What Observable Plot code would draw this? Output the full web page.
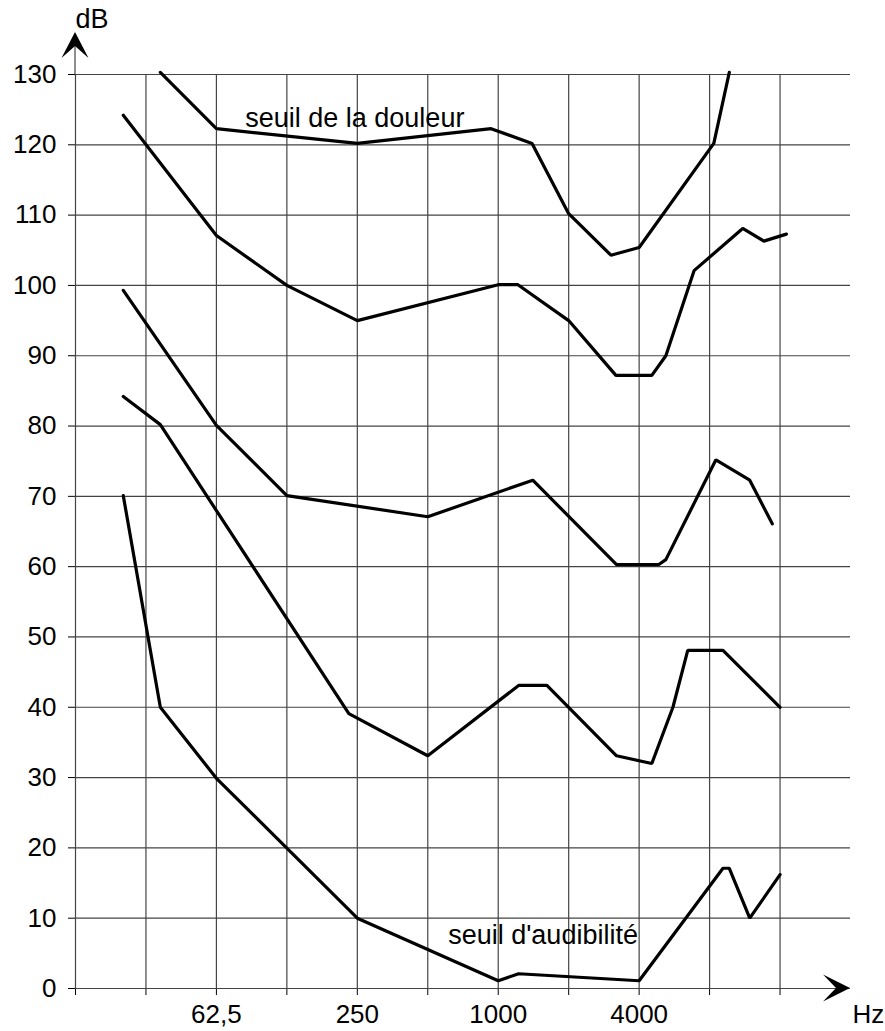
<!DOCTYPE html>
<html>
<head>
<meta charset="utf-8">
<script src="https://cdn.jsdelivr.net/npm/d3@7"></script>
<script src="https://cdn.jsdelivr.net/npm/@observablehq/plot@0.6"></script>
<style>
  html, body { margin: 0; padding: 0; background: #fff; }
  #chart svg { display: block; }
</style>
</head>
<body>
<div id="chart"></div>
<script>
// Octave grid (Hz) and dB grid
const gridHz = [15.625, 31.25, 62.5, 125, 250, 500, 1000, 2000, 4000, 8000, 16000];
const dbTicks = [0, 10, 20, 30, 40, 50, 60, 70, 80, 90, 100, 110, 120, 130];
const xTickHz = [62.5, 250, 1000, 4000];
const xTickText = ["62,5", "250", "1000", "4000"];

// Curve 1 : seuil de la douleur
const douleurHz = [36, 62.5, 250, 933, 1395, 2000, 3031, 4000, 8339, 9712];
const douleurDb = [130.3, 122.3, 120.2, 122.3, 120.2, 110.2, 104.3, 105.4, 120.2, 130.3];
// Curve 2
const c100Hz = [25, 62.5, 125, 250, 1000, 1214, 2000, 3183, 4531, 5203, 6866, 11080, 13640, 17030];
const c100Db = [124.2, 107.1, 100, 95, 100.1, 100.1, 95, 87.2, 87.2, 90, 102.1, 108.1, 106.3, 107.3];
// Curve 3
const c70Hz = [25, 62.5, 125, 500, 1405, 3203, 4855, 5203, 8514, 11875, 14823];
const c70Db = [99.3, 80.1, 70.1, 67.1, 72.3, 60.3, 60.3, 61.0, 75.2, 72.3, 66.1];
// Curve 4
const c40Hz = [25, 36, 230, 500, 1222, 1614, 3203, 4531, 5577, 6453, 9127, 16000];
const c40Db = [84.2, 80.2, 39.1, 33.1, 43.1, 43.1, 33.1, 32.0, 40.0, 48.1, 48.1, 40.0];
// Curve 5 : seuil d'audibilité
const audibHz = [25, 36, 62.5, 250, 1000, 1222, 4000, 9127, 9712, 11875, 16000];
const audibDb = [70.1, 40.0, 29.9, 10.0, 1.1, 2.1, 1.1, 17.1, 17.1, 10.0, 16.2];

// Curve labels
const labelText = ["seuil de la douleur", "seuil d'audibilité"];
const labelHz = [83, 611];
const labelDb = [122.6, 6.4];

// Build tables
const curves = [
  ["douleur", douleurHz, douleurDb],
  ["c100", c100Hz, c100Db],
  ["c70", c70Hz, c70Db],
  ["c40", c40Hz, c40Db],
  ["audib", audibHz, audibDb]
];
const rows = curves.flatMap(([name, hz, db]) => hz.map((h, i) => ({curve: name, hz: h, db: db[i]})));
const labels = labelText.map((t, i) => ({text: t, hz: labelHz[i], db: labelDb[i]}));
const tickMap = new Map(xTickHz.map((h, i) => [h, xTickText[i]]));

const gridColor = "#444";

// Arrowheads and axis extensions drawn from the scales
function arrows(index, scales) {
  const x = scales.x, y = scales.y;
  const x0 = x(gridHz[0]), yTop = y(dbTicks[dbTicks.length - 1]), y0 = y(0), xEnd = x(32000);
  const g = d3.create("svg:g");
  g.append("line")
    .attr("x1", x0).attr("x2", x0).attr("y1", yTop).attr("y2", yTop - 38)
    .attr("stroke", gridColor).attr("stroke-width", 1.2);
  g.append("path")
    .attr("d", `M${x0},${yTop - 42}L${x0 + 13.5},${yTop - 16}L${x0},${yTop - 28}L${x0 - 13.5},${yTop - 16}Z`)
    .attr("fill", "black");
  g.append("path")
    .attr("d", `M${xEnd},${y0}L${xEnd - 27},${y0 + 13.5}L${xEnd - 14},${y0}L${xEnd - 27},${y0 - 13.5}Z`)
    .attr("fill", "black");
  return g.node();
}

const chart = Plot.plot({
  width: 885,
  height: 1031,
  marginLeft: 75,
  marginRight: 35,
  marginTop: 74,
  marginBottom: 43,
  style: {fontFamily: "'Liberation Sans', Arial, sans-serif", fontSize: "26px", color: "black", background: "white"},
  x: {type: "log", base: 2, domain: [15.625, 32000], ticks: gridHz, tickSize: 7, tickPadding: 9,
      tickFormat: d => tickMap.get(d) || "", label: null},
  y: {domain: [0, 130], ticks: dbTicks, tickSize: 7, tickPadding: 12, label: null},
  marks: [
    Plot.ruleX(gridHz, {stroke: gridColor, strokeWidth: 1.2}),
    Plot.ruleY(dbTicks, {stroke: gridColor, strokeWidth: 1.2}),
    Plot.line(rows, {x: "hz", y: "db", z: "curve", stroke: "black", strokeWidth: 3.2,
      strokeLinejoin: "miter", curve: "linear"}),
    Plot.text(labels, {x: "hz", y: "db", text: "text", textAnchor: "start", lineAnchor: "bottom",
      fontSize: 27, fill: "black"}),
    Plot.text(["dB"], {x: gridHz[0], y: 130, text: d => d, dy: -47, textAnchor: "start", lineAnchor: "bottom", fontSize: 27}),
    Plot.text(["Hz"], {x: 32000, y: 0, text: d => d, dx: 2, dy: 34, textAnchor: "start", lineAnchor: "bottom", fontSize: 26}),
    arrows
  ]
});
document.getElementById("chart").appendChild(chart);
</script>
</body>
</html>
